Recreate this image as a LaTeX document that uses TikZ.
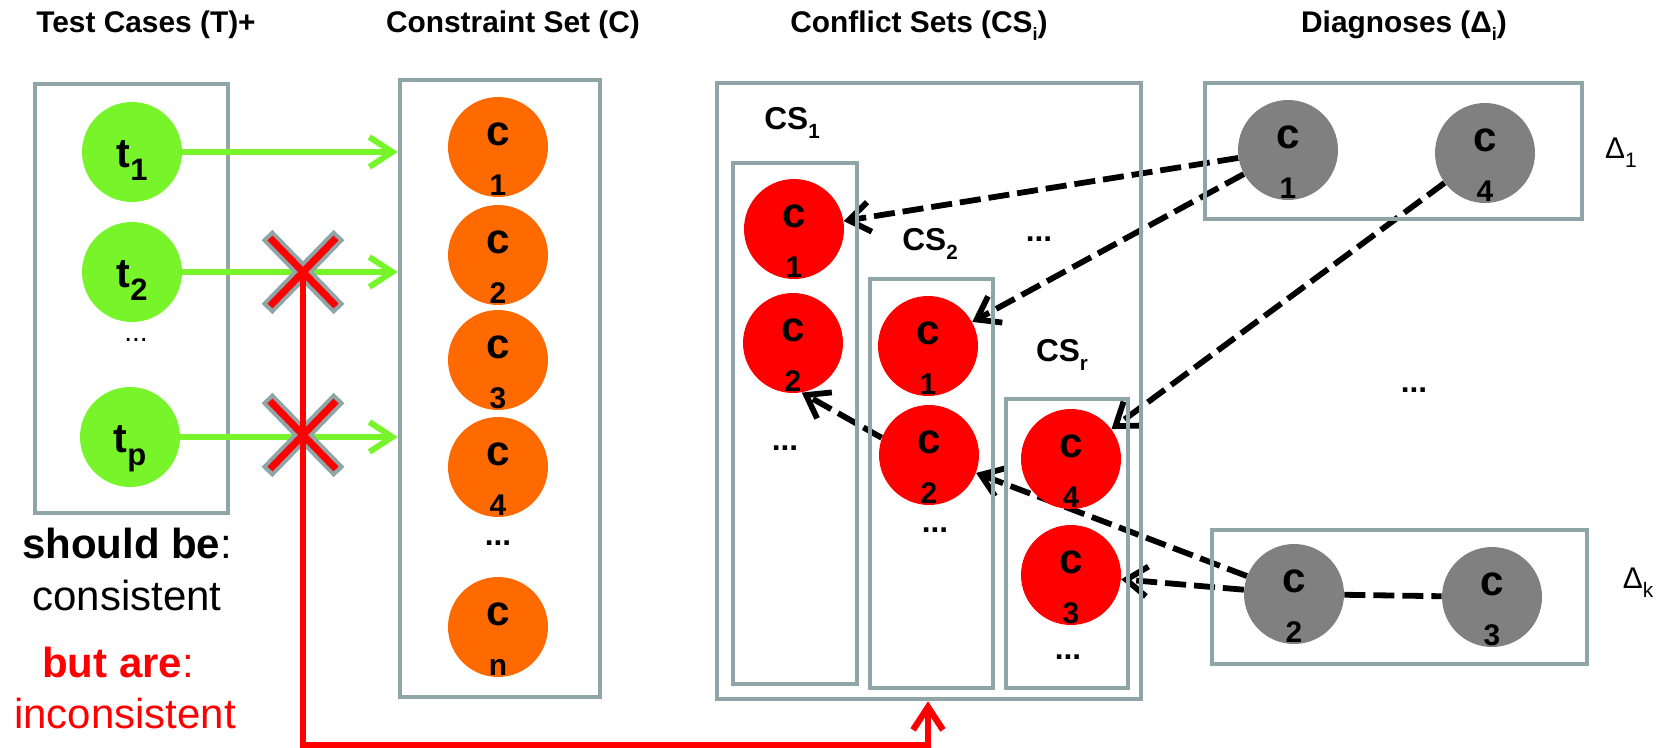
\documentclass[tikz,border=0pt]{standalone}
\usepackage{graphicx}
\usepackage{fontspec}
\setmainfont{Liberation Sans}
\usetikzlibrary{arrows.meta,fit,backgrounds}
\definecolor{boxgray}{RGB}{143,165,168}
\definecolor{tgreen}{RGB}{120,245,42}
\definecolor{corange}{RGB}{255,106,0}
\definecolor{cred}{RGB}{255,0,0}
\definecolor{cgray}{RGB}{128,128,128}
\newcommand\lowidx[2][0.7]{\raisebox{-0.3em}{\scalebox{#1}{#2}}}
\newcommand\cnode[4]{%
  \node[#1] (#2) at (#3) {};
  \node[ctext] (#2c) at ([yshift=1pt]#2.center) {c};
  \node[ntext] (#2n) at ([yshift=1pt]#2.south) {#4};}
\tikzset{
  good/.style={draw=tgreen,line width=3.4pt,-{Straight Barb[length=13pt,width=17pt]}},
  fail/.style={draw=red,line width=3.6pt,-{Straight Barb[length=13pt,width=17pt]}},
  hit/.style={line width=3.3pt,dash pattern=on 12pt off 4.5pt,-{Straight Barb[length=12pt,width=17pt]}}
}
\begin{document}
\begin{tikzpicture}[x=0.02cm,y=-0.02cm,
    setbox/.style={draw=boxgray,line width=2.6pt,inner sep=0pt},
    elem/.style={circle,minimum size=2cm,inner sep=0pt},
    tcase/.style={elem,fill=tgreen},
    cons/.style={elem,fill=corange},
    confl/.style={elem,fill=cred},
    diag/.style={elem,fill=cgray},
    ctext/.style={anchor=base,inner sep=0pt,font=\bfseries\fontsize{24}{26}\selectfont},
    ntext/.style={anchor=base,inner sep=0pt,font=\bfseries\fontsize{17}{19}\selectfont},
    ttext/.style={anchor=base,inner sep=0pt,font=\bfseries\fontsize{23.5}{26}\selectfont},
    heading/.style={anchor=base,inner sep=0pt,font=\bfseries\fontsize{17}{20}\selectfont},
    cslabel/.style={inner sep=0pt,font=\bfseries\fontsize{18}{20}\selectfont},
    dlabel/.style={inner sep=0pt,font=\fontsize{17}{20}\selectfont},
    note/.style={anchor=base,inner sep=0pt,font=\fontsize{23.9}{28}\selectfont},
    more/.style={inner sep=0pt,font=\bfseries\fontsize{18}{20}\selectfont}]
    \useasboundingbox (0,0) rectangle (1656,747);

    \node[heading] (htest) at (146,32) {Test Cases (T)+};
    \node[heading] (hcons) at (513,32) {Constraint Set (C)};
    \node[heading] (hconf) at (919,32) {Conflict Sets (CS\lowidx[0.6]{i})};
    \node[heading] (hdiag) at (1404,32) {Diagnoses (Δ\lowidx[0.6]{i})};

    \node[setbox,fit={(35,84) (228,513)}] (testbox) {};
    \node[setbox,fit={(400,80) (600,697)}] (consbox) {};
    \node[setbox,fit={(717,83) (1141,699)}] (confbox) {};
    \node[setbox,fit={(733,163) (857,684)}] (cs1box) {};
    \node[setbox,fit={(870,279) (993,688)}] (cs2box) {};
    \node[setbox,fit={(1006,399) (1128,688)}] (csrbox) {};
    \node[setbox,fit={(1205,83) (1582,219)}] (d1box) {};
    \node[setbox,fit={(1212,530) (1587,664)}] (dkbox) {};

    \node[tcase] (t1) at (132,152) {};
    \node[tcase] (t2) at (132,272) {};
    \node[tcase] (tp) at (130,437) {};
    \node[ttext] (t1l) at ([yshift=-9pt]t1.center) {t\lowidx[0.75]{1}};
    \node[ttext] (t2l) at ([yshift=-9pt]t2.center) {t\lowidx[0.75]{2}};
    \node[ttext] (tpl) at ([yshift=-9pt]tp.center) {t\lowidx[0.75]{p}};
    \node[more,font=\fontsize{16}{18}\selectfont] (tdots) at (136,340) {...};

    \cnode{cons}{c1}{498,147}{1}
    \cnode{cons}{c2}{498,255}{2}
    \cnode{cons}{c3}{498,360}{3}
    \cnode{cons}{c4}{498,467}{4}
    \cnode{cons}{cn}{498,627}{n}
    \node[more] (cdots) at (498,543) {...};

    \node[cslabel] (cs1) at (792,123) {CS\lowidx[0.65]{1}};
    \node[cslabel] (cs2) at (930,244) {CS\lowidx[0.65]{2}};
    \node[cslabel] (csr) at (1062,355) {CS\lowidx[0.65]{r}};
    \cnode{confl}{s11}{794,229}{1}
    \cnode{confl}{s12}{793,343}{2}
    \cnode{confl}{s21}{928,346}{1}
    \cnode{confl}{s22}{929,455}{2}
    \cnode{confl}{sr4}{1071,459}{4}
    \cnode{confl}{sr3}{1071,575}{3}
    \node[more] (s1dots) at (785,448) {...};
    \node[more] (s2dots) at (935,530) {...};
    \node[more] (srdots) at (1068,657) {...};
    \node[more] (odots) at (1039,239) {...};

    \cnode{diag}{g1}{1288,150}{1}
    \cnode{diag}{g4}{1485,153}{4}
    \cnode{diag}{g2}{1294,594}{2}
    \cnode{diag}{g3}{1492,597}{3}
    \node[dlabel] (d1) at (1621,153) {Δ\lowidx{1}};
    \node[dlabel] (dk) at (1638,583) {Δ\lowidx{k}};
    \node[more] (ddots) at (1414,390) {...};

    \begin{scope}[on background layer]
        \draw[hit] (g1) -- (s11);
        \draw[hit] (g1) -- (s21);
        \draw[hit] (g4) -- (sr4);
        \draw[hit] (g2) -- (s22);
        \draw[hit] (g2) -- (sr3);
        \draw[hit] (s22.160) -- (s12.-80);
        \draw[hit,-] (g2) -- (g3);
    \end{scope}

    \draw[good] (t1) -- (t1 -| consbox.west);
    \draw[good] (t2) -- (t2 -| consbox.west);
    \draw[good] (tp) -- (tp -| consbox.west);

    \coordinate (x2) at (303,272);
    \coordinate (xp) at (303,435);
    \coordinate (rb) at (928,745);
    \foreach \c in {x2,xp}{
        \draw[line width=8.5pt,boxgray] (\c) +(-36,-37) -- +(36,37) +(-36,37) -- +(36,-37);
        \draw[line width=4pt,red] (\c) +(-33,-34) -- +(33,34) +(-33,34) -- +(33,-34);
    }
    \draw[fail] (x2) |- (rb) -- (confbox.south -| rb);

    \node[note] (should) at (127,558) {\textbf{should be}:};
    \node[note] (consistent) at (127,610) {consistent};
    \node[note,red] (butare) at (118,677) {\textbf{but are}:};
    \node[note,red] (inconsistent) at (125,728) {inconsistent};
\end{tikzpicture}
\end{document}
